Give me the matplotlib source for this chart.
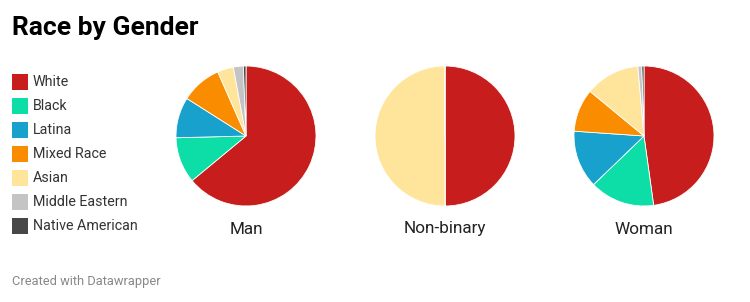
import matplotlib.pyplot as plt

plt.rcParams['font.family'] = ['Roboto', 'DejaVu Sans']

races = ["White", "Black", "Latina", "Mixed Race", "Asian", "Middle Eastern", "Native American"]
colors = ["#c71e1d", "#0ddea8", "#18a1cd", "#fa8c00", "#ffe49c", "#c4c4c4", "#474747"]

genders = ["Man", "Non-binary", "Woman"]
man = [64.0, 10.6, 9.4, 9.4, 3.7, 2.3, 0.6]
non_binary = [50, 0, 0, 0, 50, 0, 0]
woman = [47.8, 15.0, 13.3, 9.9, 12.6, 0.9, 0.5]
shares = [man, non_binary, woman]

W, H = 750, 302
fig = plt.figure(figsize=(W / 100, H / 100), dpi=100)

fig.text(12 / W, 1 - 28 / H, "Race by Gender", fontsize=19, fontweight="bold",
         va="center", ha="left", color="#000000")

# legend
for i, (name, col) in enumerate(zip(races, colors)):
    y = 82 + i * 24
    fig.patches.append(plt.Rectangle((12 / W, 1 - (y + 8) / H), 16 / W, 16 / H,
                                     transform=fig.transFigure, facecolor=col,
                                     edgecolor="none"))
    fig.text(33 / W, 1 - y / H, name, fontsize=10.3, va="center", ha="left", color="#333333")

centers = [246, 445, 644]
r = 70
cy = 136
for cx, g, vals in zip(centers, genders, shares):
    ax = fig.add_axes([(cx - r) / W, 1 - (cy + r) / H, 2 * r / W, 2 * r / H])
    ax.pie(vals, colors=colors, startangle=90, counterclock=False, radius=1,
           wedgeprops=dict(edgecolor="white", linewidth=0.6))
    ax.set_xlim(-1, 1)
    ax.set_ylim(-1, 1)
    ax.set_aspect("equal")
    fig.text(cx / W, 1 - 229 / H, g, fontsize=12.3, ha="center", va="center", color="#222222")

fig.text(12 / W, 1 - 281 / H, "Created with Datawrapper", fontsize=9.3, ha="left",
         va="center", color="#888888")

fig.savefig("out.png", dpi=100, facecolor="white")
